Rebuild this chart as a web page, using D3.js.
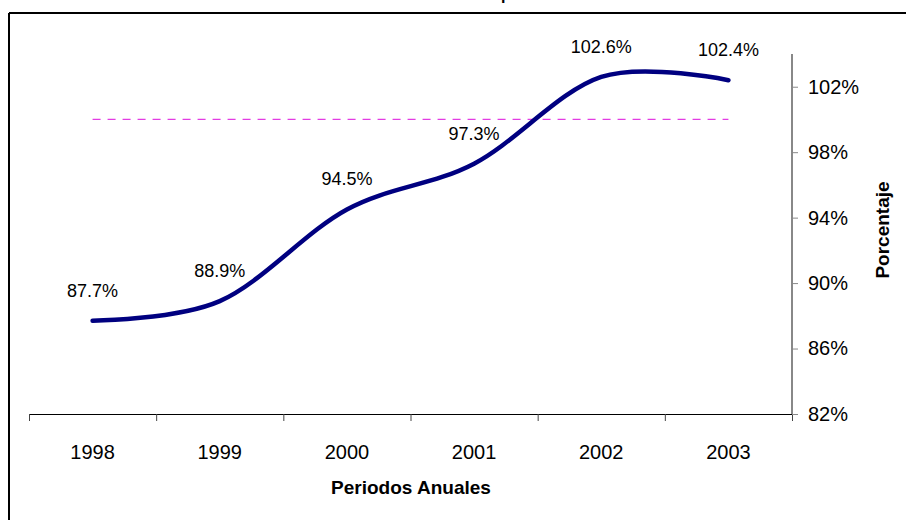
<!DOCTYPE html>
<html>
<head>
<meta charset="utf-8">
<script src="https://cdn.jsdelivr.net/npm/d3@7"></script>
<style>
  body { margin: 0; background: #fff; }
  svg { display: block; font-family: "Liberation Sans", Arial, sans-serif; }
</style>
</head>
<body>
<div class="chart_box"></div>
<script>
// Data
const years = ["1998", "1999", "2000", "2001", "2002", "2003"];
const values = [87.7, 88.9, 94.5, 97.3, 102.6, 102.4];
const target = [100, 100, 100, 100, 100, 100];
const yTicks = [82, 86, 90, 94, 98, 102];

const width = 911;
const height = 520;

const svg = d3
  .select(".chart_box")
  .append("svg")
  .attr("width", width)
  .attr("height", height);

// chart frame (only top and left edges are inside the picture)
svg.append("line")
  .attr("x1", 9).attr("y1", 13).attr("x2", 906).attr("y2", 13)
  .attr("stroke", "#000").attr("stroke-width", 2);
svg.append("line")
  .attr("x1", 9).attr("y1", 13).attr("x2", 9).attr("y2", height)
  .attr("stroke", "#000").attr("stroke-width", 2);

// title is clipped by the top edge, only a descender shows
svg.append("text")
  .attr("x", 506)
  .attr("y", 0)
  .attr("text-anchor", "middle")
  .style("font-size", "16px")
  .style("font-weight", "bold")
  .text("p");

// Scales
const xScale = d3.scaleBand().domain(years).range([29, 792]);
const yScale = d3.scaleLinear().domain([82, 104]).range([414, 54]);
const cx = (d) => xScale(d) + xScale.bandwidth() / 2;

// x axis
const xAxis = svg
  .append("g")
  .attr("transform", "translate(0, 414.5)")
  .call(
    d3.axisBottom(xScale).tickSize(0).tickPadding(30)
  );
xAxis.select(".domain").attr("stroke", "#000").attr("d", "M29,0H792");
xAxis.selectAll("text")
  .style("font-size", "20px")
  .style("font-family", "Liberation Sans, Arial, sans-serif")
  .attr("fill", "#000");

// tick marks between categories
svg.append("g")
  .selectAll("line")
  .data(years.concat(["end"]))
  .enter()
  .append("line")
  .attr("x1", (d, i) => (i < years.length ? xScale(d) : xScale.range()[1]) + 0.5)
  .attr("x2", (d, i) => (i < years.length ? xScale(d) : xScale.range()[1]) + 0.5)
  .attr("y1", 414)
  .attr("y2", 421)
  .attr("stroke", "#444");

// y axis on the right
const yAxis = svg
  .append("g")
  .attr("transform", "translate(792, 0)")
  .call(
    d3.axisRight(yScale)
      .tickValues(yTicks)
      .tickSize(6)
      .tickPadding(10)
      .tickFormat((d) => d + "%")
  );
yAxis.select(".domain").attr("stroke", "#888").attr("stroke-width", 2).attr("d", "M0,54V414");
yAxis.selectAll(".tick line").attr("stroke", "#888");
yAxis.selectAll("text")
  .style("font-size", "20px")
  .style("font-family", "Liberation Sans, Arial, sans-serif")
  .attr("fill", "#000");

// target line at 100%
svg.append("path")
  .datum(target)
  .attr("fill", "none")
  .attr("stroke", "#e33ce3")
  .attr("stroke-width", 1.2)
  .attr("stroke-dasharray", "8,7")
  .attr("d", d3.line().x((d, i) => cx(years[i])).y((d) => yScale(d)));

// main smoothed line
svg.append("path")
  .datum(values)
  .attr("fill", "none")
  .attr("stroke", "#000080")
  .attr("stroke-width", 4.5)
  .attr("stroke-linecap", "round")
  .attr("stroke-linejoin", "round")
  .attr(
    "d",
    d3.line()
      .x((d, i) => cx(years[i]))
      .y((d) => yScale(d))
      .curve(d3.curveCardinal.tension(0))
  );

// data labels
svg.selectAll(".label")
  .data(values)
  .enter()
  .append("text")
  .attr("class", "label")
  .attr("x", (d, i) => cx(years[i]))
  .attr("y", (d) => yScale(d) - 24)
  .attr("text-anchor", "middle")
  .style("font-size", "18px")
  .text((d) => d.toFixed(1) + "%");

// axis titles
svg.append("text")
  .attr("x", 411)
  .attr("y", 494)
  .attr("text-anchor", "middle")
  .style("font-size", "19px")
  .style("font-weight", "bold")
  .text("Periodos Anuales");

svg.append("text")
  .attr("transform", "translate(889, 230) rotate(-90)")
  .attr("text-anchor", "middle")
  .style("font-size", "19px")
  .style("font-weight", "bold")
  .text("Porcentaje");
</script>
</body>
</html>
